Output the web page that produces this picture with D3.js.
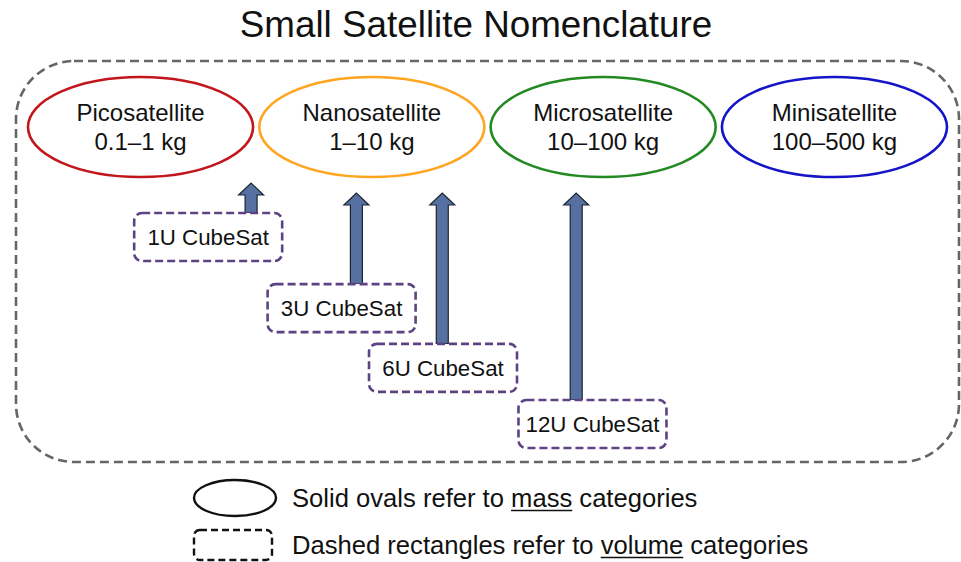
<!DOCTYPE html>
<html>
<head>
<meta charset="utf-8">
<script src="https://cdn.jsdelivr.net/npm/d3@7/dist/d3.min.js"></script>
<style>
  html, body { margin: 0; padding: 0; background: #fff; }
  svg { display: block; font-family: "Liberation Sans", Arial, Helvetica, sans-serif; }
</style>
</head>
<body>
<svg id="chart" width="961" height="562"></svg>
<script>
// ---------------- data ----------------
const title = "Small Satellite Nomenclature";
const massCategories = ["Picosatellite", "Nanosatellite", "Microsatellite", "Minisatellite"];
const massLow  = [0.1, 1, 10, 100];
const massHigh = [1, 10, 100, 500];
const massLabels = ["0.1–1 kg", "1–10 kg", "10–100 kg", "100–500 kg"];
const massColors = ["#c3161c", "#ffa51f", "#238a23", "#1414c8"];

const cubesats = ["1U CubeSat", "3U CubeSat", "6U CubeSat", "12U CubeSat"];
const cubesatMass = [0.98, 2.7, 6.5, 24];   // typical mass (kg) each arrow points to

const legendItems = [
  { pre: "Solid ovals refer to ", key: "mass", post: " categories" },
  { pre: "Dashed rectangles refer to ", key: "volume", post: " categories" }
];

// ---------------- layout ----------------
const svg = d3.select("#chart");

// title
svg.append("text")
  .attr("x", 476).attr("y", 37)
  .attr("text-anchor", "middle")
  .attr("font-size", 36.8)
  .attr("fill", "#111")
  .text(title);

// outer dashed rounded rectangle
svg.append("rect")
  .attr("x", 16).attr("y", 61)
  .attr("width", 943).attr("height", 401)
  .attr("rx", 58).attr("ry", 58)
  .attr("fill", "none")
  .attr("stroke", "#666")
  .attr("stroke-width", 2.6)
  .attr("stroke-dasharray", "9,5");

// x scale for mass categories
const xBand = d3.scaleBand()
  .domain(massCategories)
  .range([28, 947])
  .paddingInner(0.027);
const rx = xBand.bandwidth() / 2;
const cy = 127, ry = 50;

// mass (kg) -> x position within the matching oval (log within band)
function massX(m) {
  let i = massLow.findIndex((lo, k) => m >= lo && m < massHigh[k]);
  if (i < 0) i = m < massLow[0] ? 0 : massLow.length - 1;
  const t = d3.scaleLog().domain([massLow[i], massHigh[i]]).range([0, xBand.bandwidth()]);
  return xBand(massCategories[i]) + t(m);
}

// ovals
const ov = svg.append("g").selectAll("g")
  .data(massCategories)
  .join("g")
  .attr("transform", d => `translate(${xBand(d) + rx},${cy})`);
ov.append("ellipse")
  .attr("rx", rx).attr("ry", ry)
  .attr("fill", "none")
  .attr("stroke", (d, i) => massColors[i])
  .attr("stroke-width", 2.6);
ov.append("text")
  .attr("text-anchor", "middle")
  .attr("y", -6)
  .attr("font-size", 24)
  .attr("fill", "#111")
  .text(d => d);
ov.append("text")
  .attr("text-anchor", "middle")
  .attr("y", 23)
  .attr("font-size", 24)
  .attr("fill", "#111")
  .text((d, i) => massLabels[i]);

// cubesat rows
const idx = cubesats.map((d, i) => i);
const rowY = d3.scalePow().exponent(0.88).domain([0, cubesats.length - 1]).range([213, 400]);
const anchorFrac = d3.scaleLinear().domain([0, 1, cubesats.length - 1]).range([0.79, 0.6, 0.39]);
const boxW = 148, boxH = 48;
const shaftW = 12, headW = 25, headH = 12;

const arrowG = svg.append("g");
const boxG = svg.append("g");

idx.forEach(i => {
  const ax = massX(cubesatMass[i]);
  const top = rowY(i);
  const left = ax - anchorFrac(i) * boxW;
  const aTop = Math.min(193, top - 30);
  const p = d3.path();
  p.moveTo(ax - shaftW / 2, top);
  p.lineTo(ax - shaftW / 2, aTop + headH);
  p.lineTo(ax - headW / 2, aTop + headH);
  p.lineTo(ax, aTop);
  p.lineTo(ax + headW / 2, aTop + headH);
  p.lineTo(ax + shaftW / 2, aTop + headH);
  p.lineTo(ax + shaftW / 2, top);
  p.closePath();
  arrowG.append("path")
    .attr("d", p.toString())
    .attr("fill", "#5670a2")
    .attr("stroke", "#1e2430")
    .attr("stroke-width", 1.2)
    .attr("stroke-linejoin", "miter");

  boxG.append("rect")
    .attr("x", left).attr("y", top)
    .attr("width", boxW).attr("height", boxH)
    .attr("rx", 8).attr("ry", 8)
    .attr("fill", "#fff")
    .attr("stroke", "#5c4384")
    .attr("stroke-width", 2.6)
    .attr("stroke-dasharray", "8,4");
  boxG.append("text")
    .attr("x", left + boxW / 2)
    .attr("y", top + boxH / 2 + 8)
    .attr("text-anchor", "middle")
    .attr("font-size", 22.3)
    .attr("fill", "#111")
    .text(cubesats[i]);
});

// legend
const lg = svg.append("g");
lg.append("ellipse")
  .attr("cx", 235).attr("cy", 498)
  .attr("rx", 41).attr("ry", 18)
  .attr("fill", "none")
  .attr("stroke", "#111")
  .attr("stroke-width", 2.4);
lg.append("rect")
  .attr("x", 194).attr("y", 530)
  .attr("width", 78).attr("height", 30)
  .attr("rx", 6).attr("ry", 6)
  .attr("fill", "none")
  .attr("stroke", "#111")
  .attr("stroke-width", 2.4)
  .attr("stroke-dasharray", "7,4");

const legendY = [507, 554];
legendItems.forEach((it, k) => {
  const t = lg.append("text")
    .attr("x", 292).attr("y", legendY[k])
    .attr("font-size", 25.6)
    .attr("fill", "#111")
    .text(it.pre + it.key + it.post);
  const node = t.node();
  const x0 = 292 + node.getSubStringLength(0, it.pre.length);
  const w = node.getSubStringLength(it.pre.length, it.key.length);
  lg.append("line")
    .attr("x1", x0).attr("x2", x0 + w)
    .attr("y1", legendY[k] + 3.5).attr("y2", legendY[k] + 3.5)
    .attr("stroke", "#111")
    .attr("stroke-width", 1.6);
});
</script>
</body>
</html>
